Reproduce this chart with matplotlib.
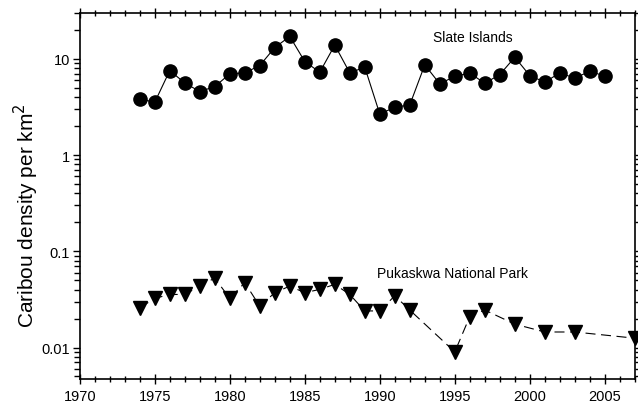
import matplotlib
matplotlib.use("Agg")
from matplotlib import pyplot as plt
from matplotlib.ticker import FixedLocator, NullFormatter, LogLocator, MultipleLocator

plt.rcParams['font.family'] = ['Liberation Sans', 'DejaVu Sans']

# Slate Islands, annual estimates
slate_years = list(range(1974, 2006))
slate_density = [3.83, 3.54, 7.55, 5.62, 4.57, 5.15, 6.98, 7.15, 8.52, 13.1,
                 17.1, 9.38, 7.26, 13.9, 7.15, 8.19, 2.67, 3.14, 3.32, 8.66,
                 5.49, 6.6, 7.1, 5.58, 6.86, 10.4, 6.7, 5.72, 7.15, 6.29,
                 7.45, 6.6]

# Pukaskwa National Park
puk_years = [1974, 1975, 1976, 1977, 1978, 1979, 1980, 1981, 1982, 1983,
             1984, 1985, 1986, 1987, 1988, 1989, 1990, 1991, 1992, 1995,
             1996, 1997, 1999, 2001, 2003, 2007]
puk_density = [0.0259, 0.0324, 0.0356, 0.0356, 0.0435, 0.0527, 0.0324, 0.0472,
               0.0269, 0.0371, 0.0435, 0.0371, 0.0402, 0.0453, 0.0356, 0.0240,
               0.0240, 0.0345, 0.0245, 0.0090, 0.0210, 0.0245, 0.0175, 0.0145,
               0.0145, 0.0125]

fig = plt.figure(figsize=(6.38, 4.10), dpi=100)
ax = fig.add_axes([0.125, 0.073, 0.870, 0.893])

ax.plot(slate_years, slate_density, color='black', lw=0.8, marker='o',
        markersize=9.5, markerfacecolor='black', markeredgecolor='black', clip_on=False)
ax.plot(puk_years, puk_density, color='black', lw=0.8, linestyle=(0, (9, 5)),
        marker='v', markersize=9.5, markerfacecolor='black', markeredgecolor='black',
        clip_on=False)

ax.text(1996.2, 17, 'Slate Islands', ha='center', va='center', fontsize=10)
ax.text(1989.8, 0.060, 'Pukaskwa National Park', ha='left', va='center', fontsize=10)

ax.set_yscale('log')
ax.set_xlim(1970, 2007)
ax.set_ylim(0.0047, 30)

ax.xaxis.set_major_locator(MultipleLocator(5))
ax.xaxis.set_minor_locator(MultipleLocator(1))
ax.yaxis.set_major_locator(FixedLocator([0.01, 0.1, 1, 10]))
ax.yaxis.set_major_formatter(plt.FixedFormatter(['0.01', '0.1', '1', '10']))
ax.yaxis.set_minor_locator(LogLocator(base=10, subs=range(2, 10)))
ax.yaxis.set_minor_formatter(NullFormatter())

ax.tick_params(axis='x', which='both', direction='inout', top=True, labelsize=10.5, width=1)
ax.tick_params(axis='x', which='major', length=7, pad=4)
ax.tick_params(axis='x', which='minor', length=5)
ax.tick_params(axis='y', which='both', direction='out', right=True, labelsize=10.5, width=1)
ax.tick_params(axis='y', which='major', length=5, pad=2)
ax.tick_params(axis='y', which='minor', length=4)

for s in ax.spines.values():
    s.set_linewidth(1.2)

ax.set_ylabel('Caribou density per km$^2$', fontsize=15)
ax.yaxis.set_label_coords(-0.07, 0.45)

plt.savefig('out.png', dpi=100)
